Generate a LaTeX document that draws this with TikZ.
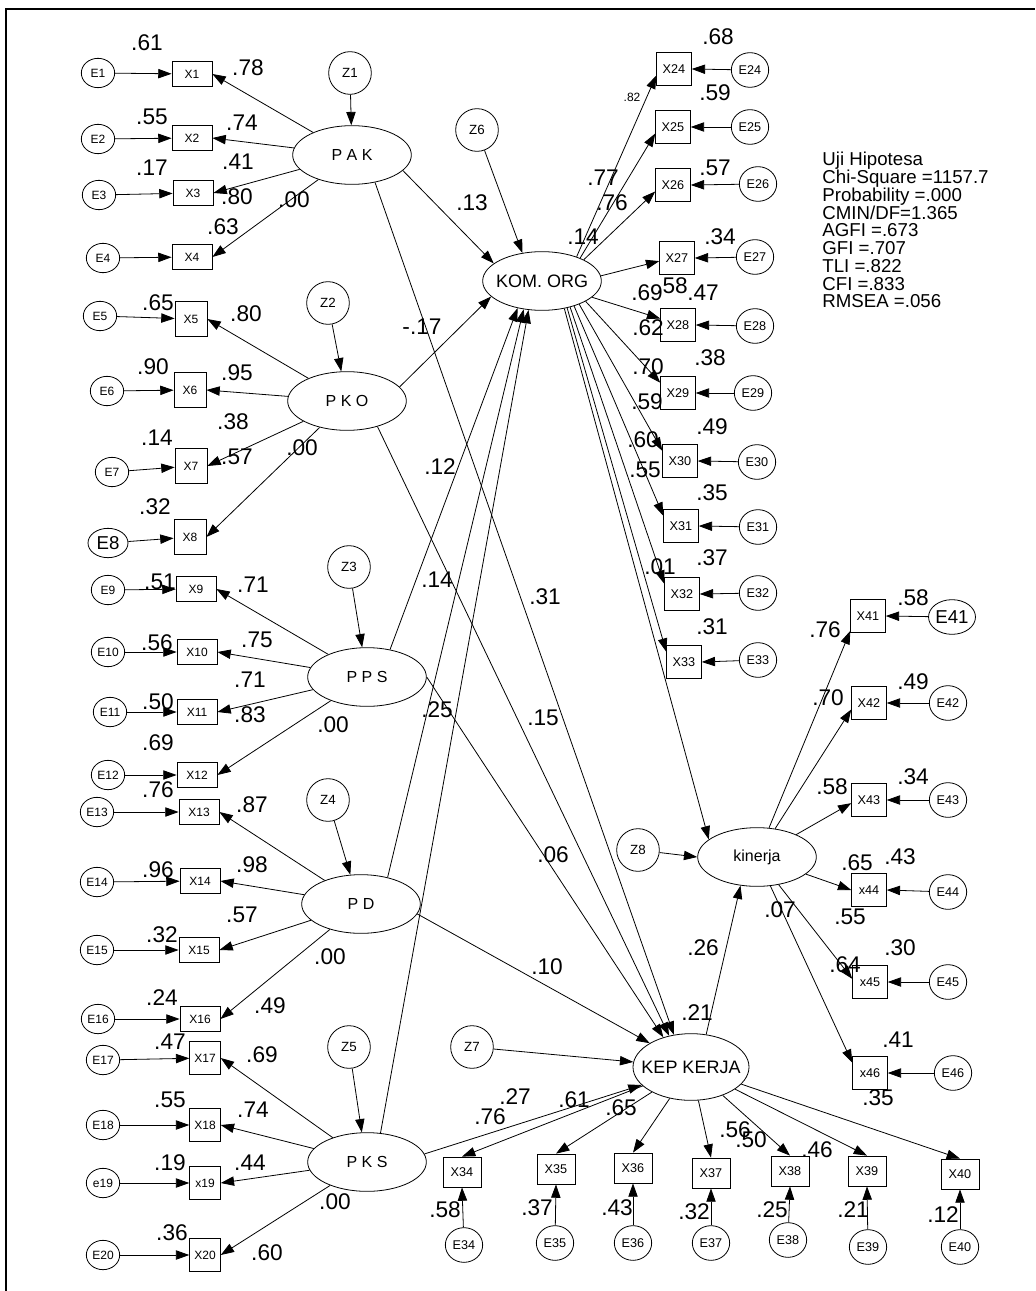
\documentclass[tikz,border=0pt]{standalone}
\usepackage{fontspec}
\setmainfont{Liberation Sans}
\usetikzlibrary{arrows.meta,shapes.geometric}

\tikzset{every picture/.style={line width=0.6pt}}
\tikzset{
  arr/.style={-{Triangle[length=10pt,width=7pt]}},
  obs/.style={draw,rectangle,inner sep=0pt,minimum width=30pt,minimum height=19pt,font=\fontsize{9}{9}\selectfont},
  obsb/.style={obs,minimum width=24pt,minimum height=26pt},
  obsc/.style={obs,minimum width=23pt,minimum height=25pt},
  obsr/.style={obs,minimum width=26pt,minimum height=25pt,font=\fontsize{9.5}{9.5}\selectfont},
  obsk/.style={obs,minimum width=28.5pt,minimum height=22.5pt,font=\fontsize{9.5}{9.5}\selectfont},
  err/.style={draw,ellipse,inner sep=0pt,minimum width=25pt,minimum height=22pt,font=\fontsize{9}{9}\selectfont},
  errr/.style={err,minimum width=28pt,minimum height=26pt,font=\fontsize{9.5}{9.5}\selectfont},
  dist/.style={draw,circle,inner sep=0pt,minimum size=32pt,font=\fontsize{10}{10}\selectfont},
  lat/.style={draw,ellipse,inner sep=0pt,minimum width=89pt,minimum height=44pt,font=\fontsize{12}{12}\selectfont},
  lbl/.style={inner sep=0pt,font=\fontsize{17}{17}\selectfont},
  stat/.style={anchor=north west,align=left,inner sep=0pt,font=\fontsize{14}{13.3}\selectfont},
}

\begin{document}
\begin{tikzpicture}[x=0.75pt,y=0.75pt,yscale=-1,xscale=1]
\useasboundingbox (0,0) rectangle (1035,1291);
% frame
\draw[line width=1pt] (6,1291) -- (6,9) -- (1035,9);

% latent variables
\node[lat] (PAK) at (352,155) {P A K};
\node[lat] (PKO) at (347,401) {P K O};
\node[lat] (PPS) at (367,677) {P P S};
\node[lat] (PD) at (361,904) {P D};
\node[lat] (PKS) at (367,1162) {P K S};
\node[lat,label={[font=\fontsize{13.5}{13.5}\selectfont]center:KOM. ORG}] (KOM) at (542,281) {};
\node[lat,minimum width=87pt,minimum height=50pt,label={[font=\fontsize{13.5}{13.5}\selectfont]center:KEP KERJA}] (KEP) at (691,1067) {};
\node[lat] (KIN) at (757,857) {kinerja};

% disturbances
\node[dist] (Z1) at (350,73) {Z1};
\node[dist] (Z2) at (328,303) {Z2};
\node[dist] (Z3) at (349,567) {Z3};
\node[dist] (Z4) at (328,800) {Z4};
\node[dist] (Z5) at (349,1047) {Z5};
\node[dist] (Z6) at (477,130) {Z6};
\node[dist] (Z7) at (472,1047) {Z7};
\node[dist] (Z8) at (638,850) {Z8};
\draw[arr] (Z1) -- (PAK);
\draw[arr] (Z2) -- (PKO);
\draw[arr] (Z3) -- (PPS);
\draw[arr] (Z4) -- (PD.110);
\draw[arr] (Z5) -- (PKS.100);
\draw[arr] (Z6) -- (KOM.125);
\draw[arr] (Z7) -- (KEP.175);
\draw[arr] (Z8) -- (KIN.west);

% exogenous indicators
\foreach \n/\ex/\ey/\xx/\xy/\lv/\sty in {1/98/73/192/74/PAK/obs, 2/98/139/192/138/PAK/obs, 3/99/195/193/193/PAK/obs, 4/103/258/192/257/PAK/obs,
  5/100/316/191/319/PKO/obsb, 6/107/391/190/390/PKO/obsb, 7/112/472/191/466/PKO/obsb,
  9/108/590/196/589/PPS/obs, 10/108/652/197/652/PPS/obs, 11/110/712/197/712/PPS/obs, 12/108/775/197/775/PPS/obs,
  13/97/812/199/812/PD/obs, 14/97/882/200/881/PD/obs, 15/97/950/199/950/PD/obs, 16/98/1019/200/1019/PD/obs,
  17/103/1060/205/1058/PKS/obsc, 18/103/1125/205/1125/PKS/obsc, 20/103/1255/205/1255/PKS/obsc}
{
  \node[err] (E\n) at (\ex,\ey) {E\n};
  \node[\sty] (X\n) at (\xx,\xy) {X\n};
  \draw[arr] (E\n) -- (X\n);
  \draw[arr] (\lv) -- (X\n.east);
}
\node[err,minimum width=30pt,font=\fontsize{14}{14}\selectfont] (E8) at (108,543) {E8};
\node[obsb] (X8) at (190,537) {X8};
\draw[arr] (E8) -- (X8);
\draw[arr] (PKO) -- (X8.east);
\node[err] (E19) at (103,1183) {e19};
\node[obsc] (X19) at (205,1183) {x19};
\draw[arr] (E19) -- (X19);
\draw[arr] (PKS) -- (X19.east);

% KOM. ORG indicators
\foreach \n/\xx/\xy/\ex/\ey/\src/\tgt in {24/674/69/750/70/35/200, 25/673/127/750/127/31/200, 26/673/185/758/184/27/200,
  27/677/258/755/257/5/190, 28/678/325/755/326/342/160, 29/678/393/753/393/335/150, 30/680/461/757/462/328/150,
  31/681/526/758/527/322/150, 32/682/594/758/593/317/150, 33/684/662/758/660/313/150}
{
  \node[obsr] (X\n) at (\xx,\xy) {X\n};
  \node[errr] (E\n) at (\ex,\ey) {E\n};
  \draw[arr] (E\n) -- (X\n.east);
  \draw[arr] (KOM.\src) -- (X\n.\tgt);
}

% kinerja indicators
\foreach \n/\xt/\xx/\xy/\ex/\ey/\tgt in {42/X42/869/703/948/703/200, 43/X43/869/800/948/800/190,
  44/x44/869/890/948/892/180, 45/x45/870/982/948/982/170, 46/x46/870/1073/953/1073/150}
{
  \node[obsr] (X\n) at (\xx,\xy) {\xt};
  \node[errr] (E\n) at (\ex,\ey) {E\n};
  \draw[arr] (E\n) -- (X\n.east);
  \draw[arr] (KIN) -- (X\n.\tgt);
}
\node[obsr] (X41) at (868,616) {X41};
\node[errr,font=\fontsize{14}{14}\selectfont] (E41) at (952,617) {E41};
\draw[arr] (E41) -- (X41.east);
\draw[arr] (KIN) -- (X41.220);

% KEP KERJA indicators
\foreach \n/\xx/\xy/\ex/\ey in {34/462/1172/464/1245, 35/556/1169/555/1243, 36/633/1168/633/1243, 37/711/1173/711/1243,
  38/790/1171/788/1240, 39/867/1171/868/1247, 40/960/1174/960/1247}
{
  \node[obsk] (X\n) at (\xx,\xy) {X\n};
  \node[errr] (E\n) at (\ex,\ey) {E\n};
  \draw[arr] (E\n) -- (X\n.south);
  \draw[arr] (KEP) -- (X\n.north);
}

% structural paths
\draw[arr] (PAK.343) -- (KOM.160);
\draw[arr] (PKO.15) -- (KOM.197);
\draw[arr] (PPS.50) -- (KOM.228);
\draw[arr] (PD.45) -- (KOM.237);
\draw[arr] (PKS.65) -- (KOM.245);
\draw[arr] (PAK.310) -- (KEP.118);
\draw[arr] (PKO.320) -- (KEP.125);
\draw[arr] (PPS.0) -- (KEP.133);
\draw[arr] (PD.350) -- (KEP.150);
\draw[arr] (PKS.8) -- (KEP.200);
\draw[arr] (KOM.309) -- (KIN.160);
\draw[arr] (KEP.65) -- (KIN.240);

% estimates, left side
\foreach \x/\y/\v [count=\i] in {147/43/.61, 248/68/.78, 152/117/.55, 242/123/.74, 152/168/.17, 238/162/.41, 237/197/.80,
  294/200/.00, 223/227/.63, 158/303/.65, 246/314/.80, 153/367/.90, 237/373/.95, 157/438/.14, 233/422/.38, 237/457/.57,
  302/448/.00, 155/507/.32, 160/582/.51, 253/585/.71, 157/643/.56, 257/640/.75, 250/680/.71, 158/702/.50, 250/715/.83,
  333/725/.00, 158/743/.69, 158/790/.76, 252/805/.87, 158/870/.96, 252/865/.98, 242/915/.57, 162/935/.32, 330/957/.00,
  162/998/.24, 270/1006/.49, 170/1042/.47, 262/1055/.69, 170/1100/.55, 253/1110/.74, 170/1163/.19, 250/1163/.44,
  335/1202/.00, 172/1233/.36, 267/1253/.60}
  \node[lbl] (la\i) at (\x,\y) {\v};

% estimates, structural part
\foreach \x/\y/\v [count=\i] in {422/327/-.17, 472/203/.13, 440/467/.12, 437/580/.14, 545/597/.31, 437/710/.25,
  543/718/.15, 553/855/.06, 547/967/.10, 703/948/.26, 697/1013/.21}
  \node[lbl] (lm\i) at (\x,\y) {\v};

% estimates, KOM. ORG side
\node[lbl,font=\fontsize{9}{9}\selectfont] (lr0) at (632,97) {.82};
\foreach \x/\y/\v [count=\i] in {718/37/.68, 715/93/.59, 715/168/.57, 603/178/.77, 612/203/.76, 583/237/.14, 720/237/.34,
  647/293/.69, 672/286/.58, 703/293/.47, 648/328/.62, 710/358/.38, 648/367/.70, 647/402/.59, 712/427/.49, 643/440/.60,
  645/470/.55, 712/493/.35, 660/567/.01, 712/558/.37, 712/627/.31}
  \node[lbl] (lr\i) at (\x,\y) {\v};

% estimates, kinerja side
\foreach \x/\y/\v [count=\i] in {913/598/.58, 825/630/.76, 913/682/.49, 828/698/.70, 913/777/.34, 832/787/.58,
  857/863/.65, 900/857/.43, 780/910/.07, 850/917/.55, 900/948/.30, 845/965/.64, 898/1040/.41, 878/1098/.35}
  \node[lbl] (lk\i) at (\x,\y) {\v};

% estimates, KEP KERJA side
\foreach \x/\y/\v [count=\i] in {515/1097/.27, 490/1117/.76, 574/1100/.61, 621/1108/.65, 735/1130/.56, 751/1140/.50,
  817/1150/.46, 445/1210/.58, 537/1208/.37, 617/1208/.43, 694/1212/.32, 772/1210/.25, 853/1210/.21, 943/1215/.12}
  \node[lbl] (lb\i) at (\x,\y) {\v};

% fit indices
\begin{scope}
\clip (800,140) rectangle (995,330);
\node[stat] (fit) at (822,152) {Uji Hipotesa\\Chi-Square =1157.7\\Probability =.000\\CMIN/DF=1.365\\AGFI =.673\\GFI =.707\\TLI =.822\\CFI =.833\\RMSEA =.056};
\end{scope}
\end{tikzpicture}
\end{document}
